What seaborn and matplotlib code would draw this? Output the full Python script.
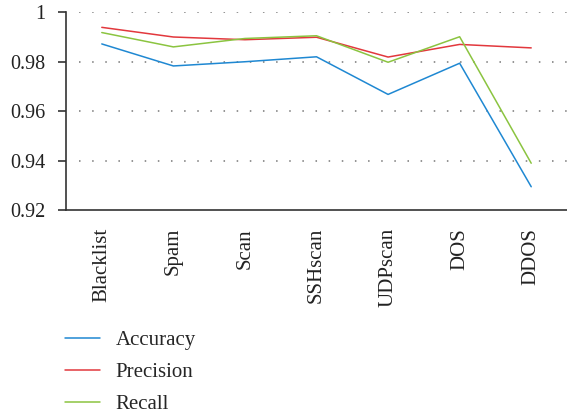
import matplotlib

matplotlib.use("Agg")
import matplotlib.pyplot as plt
import numpy as np
import pandas as pd
import seaborn as sns

categories = ["Blacklist", "Spam", "Scan", "SSHscan", "UDPscan", "DOS", "DDOS"]
accuracy = [0.9871, 0.9782, 0.9799, 0.9819, 0.9667, 0.9793, 0.9294]
precision = [0.9938, 0.9899, 0.9888, 0.9898, 0.9818, 0.9869, 0.9855]
recall = [0.9917, 0.9859, 0.9893, 0.9904, 0.9797, 0.9900, 0.9389]

series = {"Accuracy": accuracy, "Precision": precision, "Recall": recall}
colors = {"Accuracy": "#1f88d2", "Precision": "#e2383d", "Recall": "#8bc440"}

rows = []
for name, values in series.items():
    for cat, val in zip(categories, values):
        rows.append({"category": cat, "value": val, "metric": name})
df = pd.DataFrame(rows)

sns.set_style("white")
plt.rcParams["font.family"] = ["Liberation Serif", "DejaVu Serif"]

fig = plt.figure(figsize=(5.67, 4.15), dpi=100, facecolor="white")
ax = fig.add_axes([66 / 567, 1 - 210 / 415, 1 - 66 / 567, 198 / 415])

sns.lineplot(data=df, x="category", y="value", hue="metric", palette=colors,
             linewidth=1.1, sort=False, ax=ax, legend=False)

ax.set_xlim(-0.5, 6.5)
ax.set_ylim(0.92, 1.0)
ax.set_yticks([0.92, 0.94, 0.96, 0.98, 1.0])
ax.set_yticklabels(["0.92", "0.94", "0.96", "0.98", "1"])
ax.set_xticks(range(len(categories)))
ax.set_xticklabels(categories, rotation=90)
ax.set_xticks(np.arange(-0.5, 6.0, 1.0), minor=True)
ax.tick_params(axis="x", which="major", length=0, pad=13, labelsize=15, colors="#222222")
ax.tick_params(axis="x", which="minor", length=7, width=1.2, color="#333333", direction="out")
ax.tick_params(axis="y", length=6, width=1.2, color="#333333", pad=9, labelsize=14.5,
               labelcolor="#222222", direction="out", left=True)
ax.set_xlabel("")
ax.set_ylabel("")

for y in [0.94, 0.96, 0.98, 1.0]:
    ax.axhline(y, xmin=0.025, xmax=1.0, color="#777777", linewidth=1.1,
               linestyle=(0, (1, 7.6)), zorder=0)

sns.despine(ax=ax, top=True, right=True)
for side in ["left", "bottom"]:
    ax.spines[side].set_color("#333333")
    ax.spines[side].set_linewidth(1.2)

handles = [plt.Line2D([], [], color=colors[n], linewidth=1.1) for n in series]
fig.legend(handles, list(series.keys()), loc="upper left",
           bbox_to_anchor=(57 / 567, 1 - 322 / 415), frameon=False, fontsize=15,
           handlelength=1.65, handletextpad=0.75, labelspacing=0.6, borderaxespad=0)

fig.savefig("out.png", dpi=100, facecolor="white")
